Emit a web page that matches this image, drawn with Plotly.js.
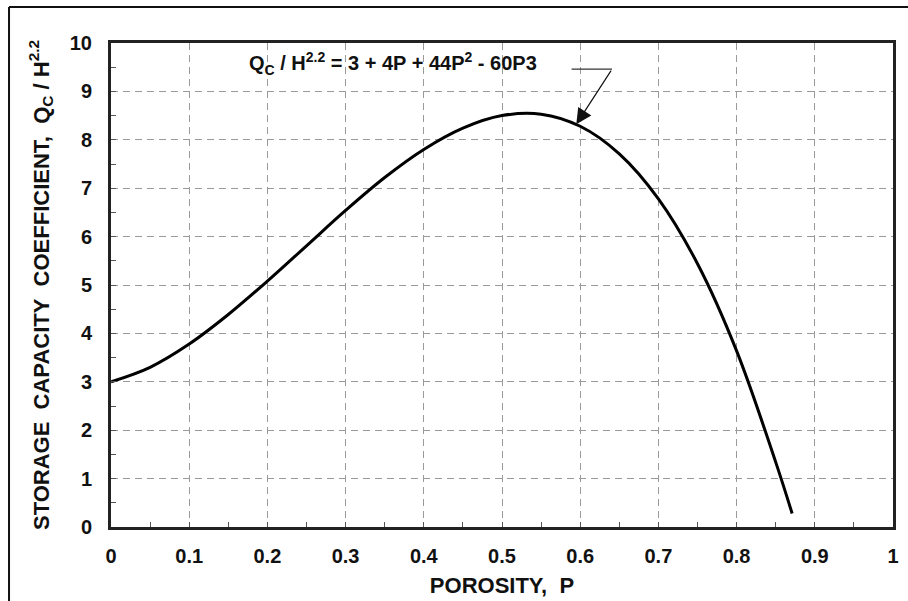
<!DOCTYPE html>
<html>
<head>
<meta charset="utf-8">
<script src="https://cdn.plot.ly/plotly-3.0.1.min.js"></script>
<style>
  html, body { margin: 0; padding: 0; background: #fff; }
  #chart { width: 908px; height: 601px; }
</style>
</head>
<body>
<div id="chart"></div>
<script>
// Values
const porosity = [0, 0.05, 0.1, 0.15, 0.2, 0.25, 0.3, 0.35, 0.4, 0.45, 0.5, 0.55, 0.6, 0.65, 0.7, 0.75, 0.8, 0.85, 0.871];
const storageCoeff = [3.0, 3.3, 3.78, 4.39, 5.08, 5.81, 6.54, 7.22, 7.8, 8.24, 8.5, 8.53, 8.28, 7.71, 6.78, 5.44, 3.64, 1.34, 0.28];

const xTicks = [0, 0.1, 0.2, 0.3, 0.4, 0.5, 0.6, 0.7, 0.8, 0.9, 1];
const xTickLabels = ['0', '0.1', '0.2', '0.3', '0.4', '0.5', '0.6', '0.7', '0.8', '0.9', '1'];
const yTicks = [0, 1, 2, 3, 4, 5, 6, 7, 8, 9, 10];
const yTickLabels = ['0', '1', '2', '3', '4', '5', '6', '7', '8', '9', '10'];

const equationText = 'Q<sub>C</sub> / H<sup>2.2</sup> = 3 + 4P + 44P<sup>2</sup> - 60P3';
const arrowTip = {x: 0.595, y: 8.32};
const arrowTail = {x: 0.6407, y: 9.46};
const arrowLeader = {x0: 0.589, x1: 0.6407};

const fontFam = '"Liberation Sans", Arial, Helvetica, sans-serif';
const NB = '\u00a0';

const trace = {
  x: porosity,
  y: storageCoeff,
  type: 'scatter',
  mode: 'lines',
  line: {color: '#000', width: 3, shape: 'spline', smoothing: 1},
  hoverinfo: 'skip',
  showlegend: false
};

const axisCommon = {
  showline: true,
  linecolor: '#222',
  linewidth: 3,
  mirror: true,
  showgrid: true,
  gridcolor: '#9a9a9a',
  gridwidth: 1,
  griddash: '7px,5px',
  zeroline: false,
  ticks: 'inside',
  ticklen: 5,
  tickwidth: 1,
  tickcolor: '#555',
  tickfont: {family: fontFam, size: 20, color: '#111', weight: 'bold'},
  fixedrange: true
};

const layout = {
  width: 908,
  height: 601,
  margin: {l: 111, r: 15, t: 43, b: 74, pad: 0},
  paper_bgcolor: '#fff',
  plot_bgcolor: '#fff',
  font: {family: fontFam, color: '#111'},
  xaxis: Object.assign({}, axisCommon, {
    range: [0, 1],
    tickmode: 'array',
    tickvals: xTicks,
    ticktext: xTickLabels,
    ticklabelstandoff: 9,
    minor: {dtick: 0.05, ticks: 'inside', ticklen: 5, tickcolor: '#555', showgrid: false},
    title: {text: 'POROSITY,' + NB + NB + 'P', font: {family: fontFam, size: 22, color: '#111', weight: 'bold'}, standoff: 12}
  }),
  yaxis: Object.assign({}, axisCommon, {
    range: [0, 10],
    tickmode: 'array',
    tickvals: yTicks,
    ticktext: yTickLabels,
    ticklabelstandoff: 12,
    minor: {dtick: 0.5, ticks: 'inside', ticklen: 5, tickcolor: '#555', showgrid: false},
    title: {
      text: 'STORAGE' + NB + NB + 'CAPACITY' + NB + NB + 'COEFFICIENT,' + NB + NB + 'Q<sub>C</sub>' + NB + '/' + NB + 'H<sup>2.2</sup>',
      font: {family: fontFam, size: 22, color: '#111', weight: 'bold'},
      standoff: 15
    }
  }),
  annotations: [
    {
      x: 0.36, y: 9.58, xref: 'x', yref: 'y',
      text: equationText,
      showarrow: false,
      xanchor: 'center', yanchor: 'middle',
      font: {family: fontFam, size: 20, color: '#111', weight: 'bold'}
    },
    {
      x: arrowTip.x, y: arrowTip.y, xref: 'x', yref: 'y',
      ax: arrowTail.x, ay: arrowTail.y, axref: 'x', ayref: 'y',
      text: '',
      showarrow: true,
      arrowhead: 2,
      arrowsize: 2.6,
      arrowwidth: 1.2,
      arrowcolor: '#111'
    }
  ],
  shapes: [
    {type: 'line', xref: 'x', yref: 'y', x0: arrowLeader.x0, x1: arrowLeader.x1, y0: arrowTail.y, y1: arrowTail.y,
     line: {color: '#333', width: 1.2}},
    {type: 'line', xref: 'paper', yref: 'paper', x0: -0.1304, x1: 1.03, y0: 1.0744, y1: 1.0744,
     line: {color: '#111', width: 2}},
    {type: 'line', xref: 'paper', yref: 'paper', x0: -0.1304, x1: -0.1304, y0: 1.0744, y1: -0.2,
     line: {color: '#111', width: 2}}
  ]
};

Plotly.newPlot('chart', [trace], layout, {displayModeBar: false, staticPlot: true});
</script>
</body>
</html>
